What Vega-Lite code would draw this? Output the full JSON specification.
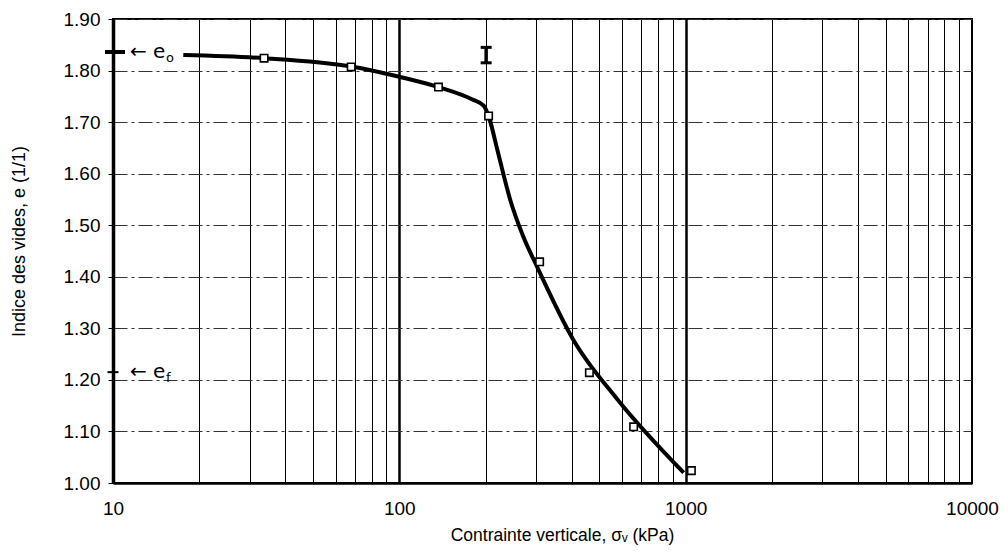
{
  "$schema": "https://vega.github.io/schema/vega-lite/v6.json",
  "width": 859,
  "height": 464,
  "autosize": {"type": "none"},
  "padding": {"left": 113, "top": 19, "right": 32, "bottom": 72},
  "background": "white",
  "config": {
    "font": "Liberation Sans",
    "view": {"stroke": "black", "strokeWidth": 2}
  },
  "datasets": {
    "courbe": [
      {"s": 17.6, "e": 1.830},
      {"s": 33.7, "e": 1.824},
      {"s": 67.9, "e": 1.808},
      {"s": 100, "e": 1.788},
      {"s": 137, "e": 1.768},
      {"s": 180, "e": 1.744},
      {"s": 197, "e": 1.732},
      {"s": 206, "e": 1.708},
      {"s": 220, "e": 1.646},
      {"s": 244, "e": 1.549},
      {"s": 270, "e": 1.480},
      {"s": 303, "e": 1.419},
      {"s": 405, "e": 1.278},
      {"s": 578, "e": 1.162},
      {"s": 984, "e": 1.020}
    ],
    "essais": [
      {"s": 33.7, "e": 1.824},
      {"s": 67.9, "e": 1.807},
      {"s": 137, "e": 1.768},
      {"s": 205, "e": 1.712},
      {"s": 309, "e": 1.429},
      {"s": 461, "e": 1.214},
      {"s": 658, "e": 1.109},
      {"s": 1047, "e": 1.024}
    ],
    "reperes": [
      {"nom": "e0", "s": 10, "e": 1.836, "lab": "← e", "sub": "o"},
      {"nom": "ef", "s": 10, "e": 1.215, "lab": "← e", "sub": "f"}
    ],
    "sigmap": [
      {"s": 201, "lo": 1.815, "hi": 1.845}
    ]
  },
  "layer": [
    {
      "data": {"name": "courbe"},
      "mark": {"type": "line", "color": "black", "strokeWidth": 4, "interpolate": "monotone", "clip": true},
      "encoding": {
        "x": {
          "field": "s", "type": "quantitative",
          "scale": {"type": "log", "domain": [10, 10000], "nice": false},
          "axis": {
            "values": [10, 20, 30, 40, 50, 60, 70, 80, 90, 100, 200, 300, 400, 500, 600, 700, 800, 900, 1000, 2000, 3000, 4000, 5000, 6000, 7000, 8000, 9000, 10000],
            "labelExpr": "indexof([10, 100, 1000, 10000], datum.value) >= 0 ? '' + datum.value : ''",
            "labelOverlap": false,
            "labelFlush": false,
            "labelBound": false,
            "labelFontSize": 19,
            "labelColor": "black",
            "labelPadding": 16,
            "ticks": false,
            "domainColor": "black",
            "domainWidth": 2.5,
            "grid": true,
            "gridColor": "black",
            "gridOpacity": 1,
            "gridWidth": {"condition": {"test": "datum.value == 100 || datum.value == 1000", "value": 2.5}, "value": 1},
            "title": "Contrainte verticale, σᵥ (kPa)",
            "titleFontSize": 17.5,
            "titleFontWeight": "normal",
            "titleColor": "black",
            "titleX": 449,
            "titleY": 52,
            "titleBaseline": "middle"
          }
        },
        "y": {
          "field": "e", "type": "quantitative",
          "scale": {"domain": [1.0, 1.9], "nice": false, "zero": false},
          "axis": {
            "values": [1.0, 1.05, 1.1, 1.15, 1.2, 1.25, 1.3, 1.35, 1.4, 1.45, 1.5, 1.55, 1.6, 1.65, 1.7, 1.75, 1.8, 1.85, 1.9],
            "labelExpr": "abs(datum.value * 10 - round(datum.value * 10)) < 0.001 ? format(datum.value, '.2f') : ''",
            "labelOverlap": false,
            "labelBound": false,
            "labelFlush": false,
            "labelFontSize": 19,
            "labelColor": "black",
            "labelPadding": 8,
            "tickSize": 5,
            "tickColor": "black",
            "tickOpacity": {"condition": {"test": "abs(datum.value * 10 - round(datum.value * 10)) < 0.001", "value": 1}, "value": 0},
            "domainColor": "black",
            "domainWidth": 3.5,
            "grid": true,
            "gridColor": "#333333",
            "gridOpacity": 1,
            "gridWidth": 1,
            "gridDash": [14, 4, 3, 4],
            "title": "Indice des vides, e (1/1)",
            "titleFontSize": 18,
            "titleFontWeight": "normal",
            "titleColor": "black",
            "titleX": -94,
            "titleY": 222,
            "titleBaseline": "middle"
          }
        }
      }
    },
    {
      "data": {"name": "essais"},
      "mark": {"type": "point", "shape": "square", "filled": true, "fill": "white", "stroke": "black", "strokeWidth": 1.6, "size": 55, "opacity": 1},
      "encoding": {
        "x": {"field": "s", "type": "quantitative"},
        "y": {"field": "e", "type": "quantitative"}
      }
    },
    {
      "data": {"name": "sigmap"},
      "mark": {"type": "rule", "color": "black", "strokeWidth": 3.5, "opacity": 1},
      "encoding": {
        "x": {"field": "s", "type": "quantitative"},
        "y": {"field": "lo", "type": "quantitative"},
        "y2": {"field": "hi"}
      }
    },
    {
      "data": {"name": "sigmap"},
      "transform": [{"fold": ["lo", "hi"], "as": ["bout", "val"]}],
      "mark": {"type": "tick", "orient": "horizontal", "color": "black", "thickness": 3, "size": 11, "opacity": 1},
      "encoding": {
        "x": {"field": "s", "type": "quantitative"},
        "y": {"field": "val", "type": "quantitative"}
      }
    },
    {
      "data": {"name": "reperes"},
      "transform": [{"filter": "datum.nom == 'e0'"}],
      "mark": {"type": "tick", "orient": "horizontal", "color": "black", "thickness": 4, "size": 20, "clip": false, "xOffset": 2, "opacity": 1},
      "encoding": {
        "x": {"field": "s", "type": "quantitative"},
        "y": {"field": "e", "type": "quantitative"}
      }
    },
    {
      "data": {"name": "reperes"},
      "transform": [{"filter": "datum.nom == 'ef'"}],
      "mark": {"type": "tick", "orient": "horizontal", "color": "black", "thickness": 2, "size": 11, "clip": false, "opacity": 1},
      "encoding": {
        "x": {"field": "s", "type": "quantitative"},
        "y": {"field": "e", "type": "quantitative"}
      }
    },
    {
      "data": {"name": "reperes"},
      "mark": {"type": "text", "align": "left", "baseline": "middle", "dx": 17, "fontSize": 20, "font": "DejaVu Sans", "color": "black"},
      "encoding": {
        "x": {"field": "s", "type": "quantitative"},
        "y": {"field": "e", "type": "quantitative"},
        "text": {"field": "lab"}
      }
    },
    {
      "data": {"name": "reperes"},
      "mark": {"type": "text", "align": "left", "baseline": "middle", "dx": 53, "dy": 6, "fontSize": 13, "font": "DejaVu Sans", "color": "black"},
      "encoding": {
        "x": {"field": "s", "type": "quantitative"},
        "y": {"field": "e", "type": "quantitative"},
        "text": {"field": "sub"}
      }
    }
  ]
}
